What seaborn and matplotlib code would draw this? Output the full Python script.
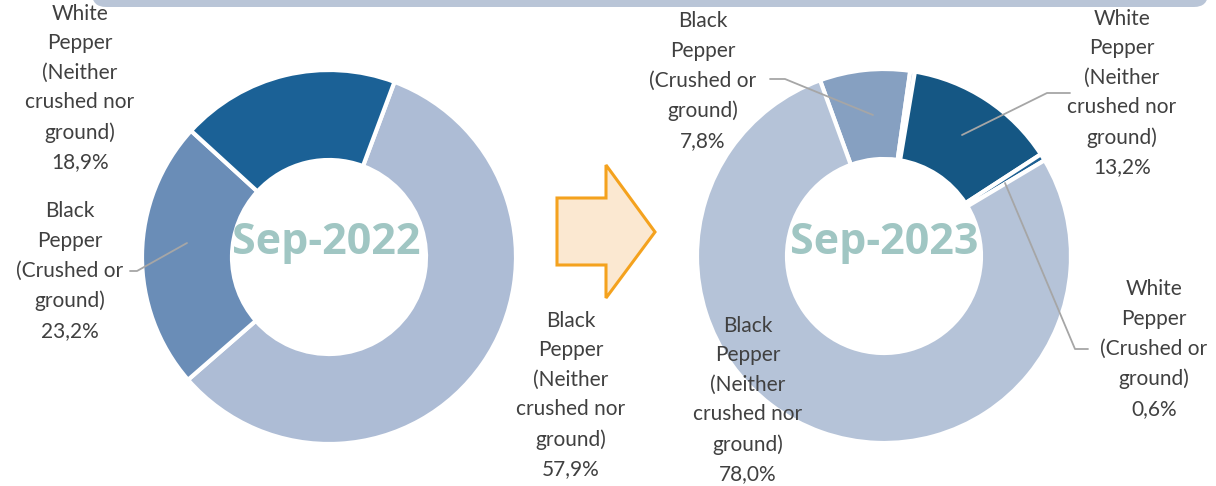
import matplotlib
matplotlib.use("Agg")
import matplotlib.pyplot as plt
from matplotlib.patches import FancyBboxPatch, Polygon
import seaborn as sns

# Pepper export mix by product, two periods
labels_2022 = ["Black\nPepper\n(Neither\ncrushed nor\nground)",
               "Black\nPepper\n(Crushed or\nground)",
               "White\nPepper\n(Neither\ncrushed nor\nground)"]
values_2022 = [57.9, 23.2, 18.9]
colors_2022 = ["#adbcd5", "#6a8db7", "#1b6196"]

labels_2023 = ["Black\nPepper\n(Crushed or\nground)",
               "",
               "White\nPepper\n(Neither\ncrushed nor\nground)",
               "White\nPepper\n(Crushed or\nground)",
               "Black\nPepper\n(Neither\ncrushed nor\nground)"]
values_2023 = [7.8, 0.4, 13.2, 0.6, 78.0]
colors_2023 = ["#86a0c1", "#b4c2d8", "#155784", "#1c5f92", "#b5c3d8"]

titles = ["Sep-2022", "Sep-2023"]

sns.set_theme(style="white")
plt.rcParams["font.family"] = ["Lato", "DejaVu Sans"]

W, H = 1216, 486
fig = plt.figure(figsize=(W / 100, H / 100), dpi=100)
ax = fig.add_axes([0, 0, 1, 1])


def py(y):
    """Convert a top-down pixel row to the axis y coordinate."""
    return H - y


def pct(v):
    return f"{v:.1f}%".replace(".", ",")


# Banner edge along the top
ax.add_patch(FancyBboxPatch((92, py(7)), 1116, 60,
                            boxstyle="round,pad=0,rounding_size=14",
                            facecolor="#b9c5d7", edgecolor="none", zorder=0))

ring = dict(width=90, edgecolor="white", linewidth=3)

ax.pie(values_2022, center=(329, py(257)), radius=187, startangle=69.5,
       counterclock=False, colors=colors_2022, wedgeprops=ring, frame=True)
ax.pie(values_2023, center=(884, py(256)), radius=187, startangle=110,
       counterclock=False, colors=colors_2023, wedgeprops=ring, frame=True)

title_color = "#a0c6c3"
for cx, t in zip([326, 884], titles):
    ax.text(cx, py(243), t, ha="center", va="center", fontsize=31,
            fontweight="bold", color=title_color,
            family=["Open Sans", "DejaVu Sans"], zorder=4)

# Direction arrow between the two rings
arrow = [(557, 198), (606, 198), (606, 165), (655, 232),
         (606, 298), (606, 265), (557, 265)]
ax.add_patch(Polygon([(x, py(y)) for x, y in arrow], closed=True,
                     facecolor="#fbe8d1", edgecolor="#f4a21e", linewidth=2.2,
                     zorder=3))

lab = dict(ha="center", va="center", fontsize=15, color="#404040",
           linespacing=1.6, zorder=4)
lead = dict(color="#a6a6a6", linewidth=1.3, zorder=3)

# Sep-2022 labels
ax.text(80, py(88), f"{labels_2022[2]}\n{pct(values_2022[2])}", **lab)
ax.text(70, py(271), f"{labels_2022[1]}\n{pct(values_2022[1])}", **lab)
ax.plot([130, 137, 187], [py(271), py(271), py(243)], **lead)
ax.text(571, py(395), f"{labels_2022[0]}\n{pct(values_2022[0])}", **lab)

# Sep-2023 labels
ax.text(703, py(81), f"{labels_2023[0]}\n{pct(values_2023[0])}", **lab)
ax.plot([770, 785, 873], [py(79), py(79), py(115)], **lead)
ax.text(1122, py(93), f"{labels_2023[2]}\n{pct(values_2023[2])}", **lab)
ax.plot([1070, 1047, 962], [py(93), py(93), py(135)], **lead)
ax.text(1154, py(349), f"{labels_2023[3]}\n{pct(values_2023[3])}", **lab)
ax.plot([1088, 1075, 1005], [py(349), py(349), py(183)], **lead)
ax.text(748, py(400), f"{labels_2023[4]}\n{pct(values_2023[4])}", **lab)

ax.set_xlim(0, W)
ax.set_ylim(0, H)
ax.set_aspect("auto")
ax.axis("off")

fig.savefig("out.png", dpi=100, facecolor="white")
